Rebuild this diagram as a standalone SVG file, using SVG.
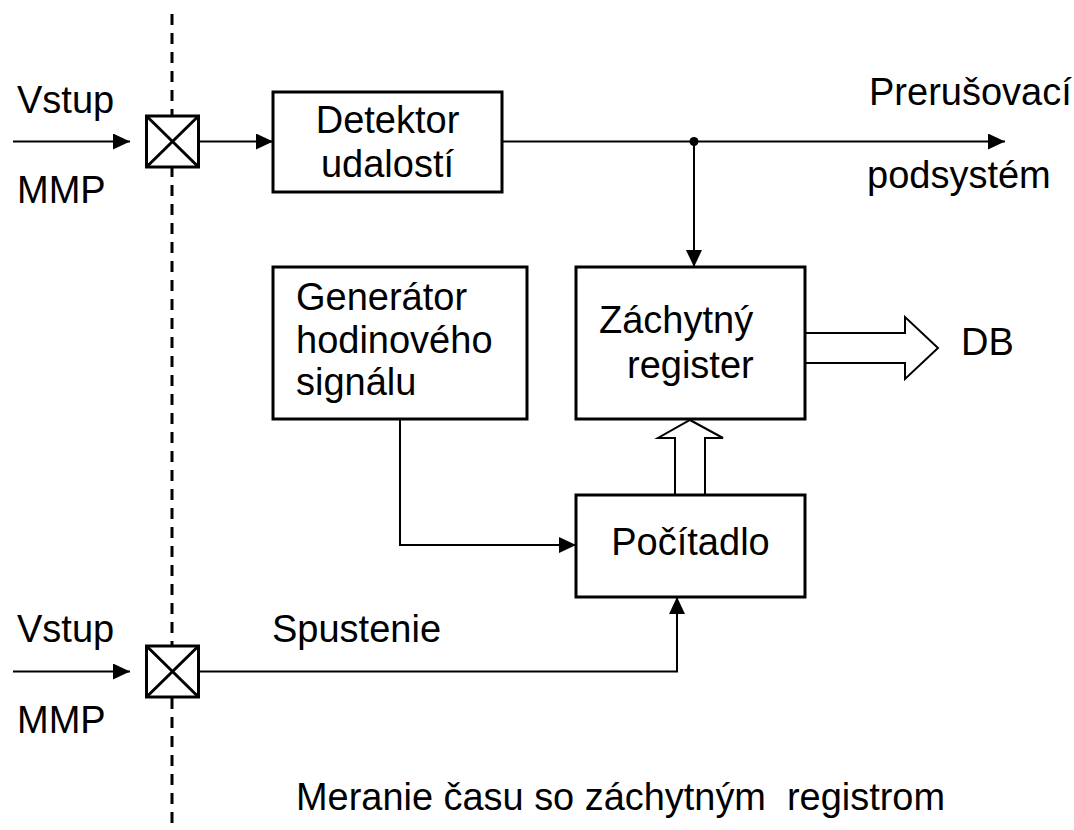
<svg xmlns="http://www.w3.org/2000/svg" width="1074" height="830" viewBox="0 0 1074 830">
  <style>
    text { font-family: "Liberation Sans", Arial, sans-serif; font-size: 38px; fill: #000; }
    .box { fill: #fff; stroke: #000; stroke-width: 3; }
    .wire { fill: none; stroke: #000; stroke-width: 2; }
    .bus { fill: #fff; stroke: #000; stroke-width: 2; stroke-linejoin: miter; }
    .cross { stroke: #000; stroke-width: 3; }
    .sep { stroke: #000; stroke-width: 3; stroke-dasharray: 11 8; }
  </style>
  <defs>
    <marker id="arrow" markerUnits="userSpaceOnUse" markerWidth="17" markerHeight="16" refX="17" refY="8" orient="auto">
      <path d="M0,0 L17,8 L0,16 Z" fill="#000"/>
    </marker>
  </defs>
  <rect width="1074" height="830" fill="#fff"/>

  <!-- boundary of the measuring unit -->
  <line class="sep" x1="172" y1="14" x2="172" y2="830"/>

  <g id="connectors">
    <line class="wire" x1="13" y1="141.5" x2="130" y2="141.5" marker-end="url(#arrow)"/>
    <line class="wire" x1="199" y1="141.5" x2="273" y2="141.5" marker-end="url(#arrow)"/>
    <line class="wire" x1="502" y1="141.5" x2="1005" y2="141.5" marker-end="url(#arrow)"/>
    <circle cx="694" cy="141.5" r="4.5" fill="#000"/>
    <line class="wire" x1="694" y1="141.5" x2="694" y2="267" marker-end="url(#arrow)"/>
    <path class="wire" d="M400,419 V545 H576" marker-end="url(#arrow)"/>
    <line class="wire" x1="13" y1="671.5" x2="130" y2="671.5" marker-end="url(#arrow)"/>
    <path class="wire" d="M199,671.5 H677 V597" marker-end="url(#arrow)"/>
    <!-- data buses -->
    <polyline class="bus" points="675,495 675,438 658,438 690,420 723,438 705,438 705,495"/>
    <polyline class="bus" points="805,333 905,333 905,317 938,348 905,379 905,363 805,363"/>
  </g>

  <g id="gate-top">
    <rect class="box" x="146.5" y="116" width="52" height="51"/>
    <line class="cross" x1="146.5" y1="116" x2="198.5" y2="167"/>
    <line class="cross" x1="198.5" y1="116" x2="146.5" y2="167"/>
  </g>
  <g id="gate-bottom">
    <rect class="box" x="146.5" y="646" width="52" height="51"/>
    <line class="cross" x1="146.5" y1="646" x2="198.5" y2="697"/>
    <line class="cross" x1="198.5" y1="646" x2="146.5" y2="697"/>
  </g>

  <g id="detektor">
    <rect class="box" x="273" y="92" width="229" height="100"/>
    <text x="387.5" y="133" text-anchor="middle">Detektor</text>
    <text x="387.5" y="177" text-anchor="middle">udalostí</text>
  </g>

  <g id="generator">
    <rect class="box" x="273" y="267" width="254" height="152"/>
    <text x="296" y="310">Generátor</text>
    <text x="296" y="353">hodinového</text>
    <text x="296" y="395">signálu</text>
  </g>

  <g id="zachytny-register">
    <rect class="box" x="576" y="267" width="229" height="152"/>
    <text x="599" y="333">Záchytný</text>
    <text x="627" y="378">register</text>
  </g>

  <g id="pocitadlo">
    <rect class="box" x="576" y="495" width="229" height="102"/>
    <text x="690.5" y="555" text-anchor="middle">Počítadlo</text>
  </g>

  <g id="labels">
    <text x="17" y="113">Vstup</text>
    <text x="17" y="203">MMP</text>
    <text x="17" y="642">Vstup</text>
    <text x="17" y="733">MMP</text>
    <text x="869" y="105">Prerušovací</text>
    <text x="867" y="188">podsystém</text>
    <text x="961" y="355">DB</text>
    <text x="272" y="642">Spustenie</text>
    <text x="296" y="810" textLength="649" lengthAdjust="spacingAndGlyphs">Meranie času so záchytným&#160; registrom</text>
  </g>
</svg>
